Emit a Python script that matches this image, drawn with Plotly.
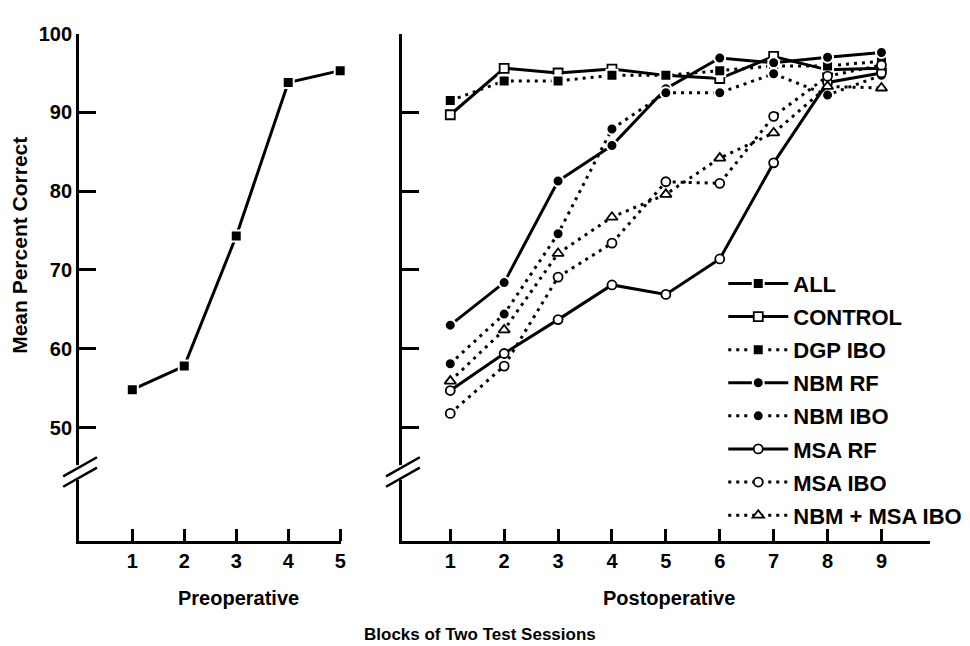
import plotly.graph_objects as go

# ---------------- data ----------------
pre_blocks = [1, 2, 3, 4, 5]
post_blocks = [1, 2, 3, 4, 5, 6, 7, 8, 9]

all_pre = [54.8, 57.8, 74.3, 93.8, 95.3]

control = [89.7, 95.6, 95.0, 95.5, 94.7, 94.3, 97.1, 95.4, 95.6]
dgp_ibo = [91.5, 94.0, 94.0, 94.7, 94.7, 95.3, 95.9, 95.9, 96.5]
nbm_rf = [63.0, 68.4, 81.3, 85.8, 93.0, 96.9, 96.3, 97.0, 97.6]
nbm_ibo = [58.1, 64.4, 74.6, 87.9, 92.5, 92.5, 94.9, 92.2, 94.7]
msa_rf = [54.7, 59.4, 63.7, 68.1, 66.9, 71.4, 83.6, 93.8, 95.0]
msa_ibo = [51.8, 57.8, 69.1, 73.4, 81.2, 81.0, 89.5, 94.6, 96.0]
nbm_msa_ibo = [55.9, 62.4, 72.1, 76.7, 79.6, 84.2, 87.4, 93.3, 93.1]

y_ticks = [50, 60, 70, 80, 90, 100]

# ---------------- layout helpers ----------------
W, H = 970, 646
FONT = "Liberation Sans"


def fx(p):
    return p / W


def fy(p):
    return 1 - p / H


DOT = "3px,5px"

series = [
    # name, xaxis, yaxis, x, y, symbol, filled, dash
    ("ALL", "x", "y", pre_blocks, all_pre, "square", True, "solid"),
    ("CONTROL", "x2", "y2", post_blocks, control, "square", False, "solid"),
    ("DGP IBO", "x2", "y2", post_blocks, dgp_ibo, "square", True, DOT),
    ("NBM RF", "x2", "y2", post_blocks, nbm_rf, "circle", True, "solid"),
    ("NBM IBO", "x2", "y2", post_blocks, nbm_ibo, "circle", True, DOT),
    ("MSA RF", "x2", "y2", post_blocks, msa_rf, "circle", False, "solid"),
    ("MSA IBO", "x2", "y2", post_blocks, msa_ibo, "circle", False, DOT),
    ("NBM + MSA IBO", "x2", "y2", post_blocks, nbm_msa_ibo, "triangle-up", False, DOT),
]

fig = go.Figure()
for i, (name, xa, ya, xs, ys, sym, filled, dash) in enumerate(series):
    if filled:
        marker = dict(symbol=sym, size=11, color="black",
                      line=dict(color="white", width=2))
    else:
        marker = dict(symbol=sym, size=9 if sym != "triangle-up" else 10,
                      color="white", line=dict(color="black", width=1.8))
    fig.add_trace(go.Scatter(
        x=xs, y=ys, xaxis=xa, yaxis=ya, name=name,
        mode="lines+markers",
        line=dict(color="black", width=3, dash=dash),
        marker=marker, cliponaxis=False,
        legendgroup=f"g{i}",
    ))

# axes geometry (pixels)
left_x0, left_x1 = 79.5, 343
right_x0, right_x1 = 404, 935
y_top, y_bot = 23, 539

axis_common = dict(
    showgrid=False, zeroline=False, showline=True, linecolor="black",
    linewidth=3, ticks="inside", tickcolor="black", tickwidth=3,
    tickfont=dict(family=FONT, size=20, color="black", weight="bold"),
)

fig.update_layout(
    width=W, height=H,
    margin=dict(l=0, r=0, t=0, b=0),
    paper_bgcolor="white", plot_bgcolor="white",
    showlegend=True,
    xaxis=dict(domain=[fx(left_x0), fx(left_x1)], range=[-0.024, 5.02],
               tickvals=pre_blocks, ticklen=12, ticklabelstandoff=0,
               anchor="y", **axis_common),
    yaxis=dict(domain=[fy(y_bot), fy(y_top)], range=[35.625, 100],
               tickvals=y_ticks, ticklen=17, anchor="x", **axis_common),
    xaxis2=dict(domain=[fx(right_x0), fx(right_x1)], range=[0.103, 9.904],
                tickvals=post_blocks, ticklen=12, ticklabelstandoff=0,
                anchor="y2", **axis_common),
    yaxis2=dict(domain=[fy(y_bot), fy(y_top)], range=[35.625, 100],
                tickvals=y_ticks, ticklen=17, showticklabels=False,
                anchor="x2", **axis_common),
    legend=dict(
        x=fx(727), y=fy(256), xanchor="left", yanchor="top",
        font=dict(family=FONT, size=22, color="black", weight="bold"),
        traceorder="grouped", tracegroupgap=1.5, itemwidth=60,
        bgcolor="rgba(0,0,0,0)", borderwidth=0,
    ),
    font=dict(family=FONT, color="black"),
)

# axis breaks
shapes = []
for x0 in (left_x0, right_x0):
    shapes.append(dict(type="line", xref="paper", yref="paper",
                       x0=fx(x0), x1=fx(x0), y0=fy(462), y1=fy(477),
                       line=dict(color="white", width=7), layer="above"))
    for dy in (0, 10.5):
        shapes.append(dict(type="line", xref="paper", yref="paper",
                           x0=fx(x0 - 16), y0=fy(473.5 + dy),
                           x1=fx(x0 + 18), y1=fy(454 + dy),
                           line=dict(color="black", width=2.5), layer="above"))
fig.update_layout(shapes=shapes)

# titles
title_font = dict(family=FONT, size=20, color="black", weight="bold")
annotations = [
    dict(text="Preoperative", x=fx(240), y=fy(597), font=title_font),
    dict(text="Postoperative", x=fx(672), y=fy(597), font=title_font),
    dict(text="Blocks of Two Test Sessions", x=fx(482), y=fy(634),
         font=dict(family=FONT, size=17, color="black", weight="bold")),
    dict(text="Mean Percent Correct", x=fx(20), y=fy(238), textangle=-90,
         font=dict(family=FONT, size=21, color="black", weight="bold")),
]
for a in annotations:
    a.update(xref="paper", yref="paper", showarrow=False,
             xanchor="center", yanchor="middle")
fig.update_layout(annotations=annotations)

fig.write_html("out.html")
